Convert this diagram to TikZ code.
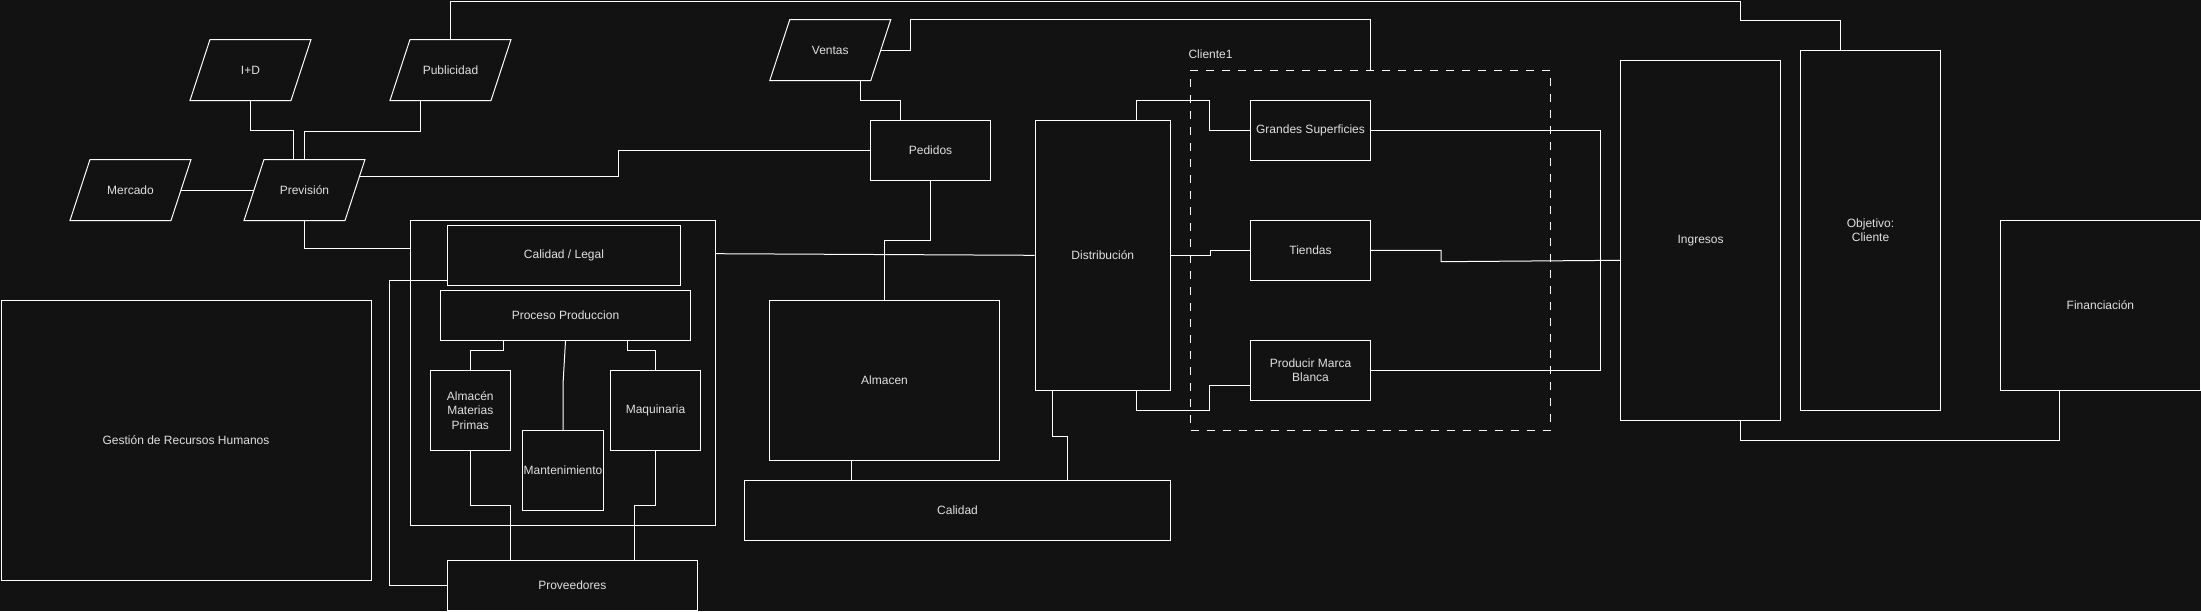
\documentclass[tikz,border=0pt]{standalone}
\usepackage{fontspec}
\setmainfont{Liberation Sans}
\definecolor{bgc}{RGB}{18,18,18}
\definecolor{textc}{RGB}{224,224,224}
\newcommand{\parashape}[1]{\draw[edge] ([xshift=20pt]#1.north west) -- (#1.north east) -- ([xshift=-20pt]#1.south east) -- (#1.south west) -- cycle;}
\begin{document}
\begin{tikzpicture}[x=1pt,y=-1pt,
  box/.style={draw=white, line width=1pt, fill=bgc, inner sep=0pt, text=textc, font=\fontsize{12}{14.4}\selectfont, align=center},
  para/.style={box, draw=none, fill=none, minimum width=120pt, minimum height=60pt},
  edge/.style={draw=white, line width=1pt},
  dashbox/.style={box, fill=none, dash pattern=on 8pt off 8pt}]
\fill[bgc] (0,0) rectangle (2201,611);
\useasboundingbox (0,0) rectangle (2201,611);

% left nodes
\node[box, minimum width=370pt, minimum height=280pt] (grh) at (186,440.3) {Gestión de Recursos Humanos};
\node[para] (mercado) at (130.5,190) {Mercado};
\node[para] (prevision) at (304.5,190) {Previsión};
\node[para] (id) at (250.5,70) {I+D};
\node[para] (publicidad) at (450.5,70) {Publicidad};
\node[para] (ventas) at (830.3,50) {Ventas};
\parashape{mercado}
\parashape{prevision}
\parashape{id}
\parashape{publicidad}
\parashape{ventas}

\node[box, minimum width=120pt, minimum height=60pt] (pedidos) at (930.5,150) {Pedidos};

% production group
\node[box, minimum width=305pt, minimum height=304.7pt] (prod) at (562.8,372.7) {};
\node[box, minimum width=233.4pt, minimum height=60pt] (calleg) at (564,255.3) {Calidad / Legal};
\node[box, minimum width=250.4pt, minimum height=50pt] (proc) at (565.5,315.3) {Proceso Produccion};
\node[box, minimum width=80pt, minimum height=80pt] (amp) at (470.3,410.3) {Almacén\\Materias\\Primas};
\node[box, minimum width=80.6pt, minimum height=80pt] (mant) at (563,470.3) {Mantenimiento};
\node[box, minimum width=90.4pt, minimum height=80pt] (maq) at (655.5,410.3) {Maquinaria};
\node[box, minimum width=250pt, minimum height=50pt] (prov) at (572.3,585.3) {Proveedores};

\node[box, minimum width=230.4pt, minimum height=160pt] (almacen) at (884.5,380.3) {Almacen};
\node[box, minimum width=426.4pt, minimum height=60pt] (calidad) at (957.5,510.3) {Calidad};
\node[box, minimum width=135.5pt, minimum height=270pt] (dist) at (1102.8,255.3) {Distribución};

% client group
\node[dashbox, minimum width=359.8pt, minimum height=360pt] (cliente) at (1370.5,250.3) {};
\node[anchor=west, inner sep=0pt, text=textc, font=\fontsize{12}{14.4}\selectfont] (clientelbl) at (1188.3,54.6) {Cliente1};
\node[box, minimum width=120pt, minimum height=60pt] (gs) at (1310.5,130.3) {Grandes Superficies};
\node[box, minimum width=120pt, minimum height=60pt] (tiendas) at (1310.5,250.3) {Tiendas};
\node[box, minimum width=120pt, minimum height=60pt] (pmb) at (1310.5,370.3) {Producir Marca\\Blanca};

\node[box, minimum width=160.4pt, minimum height=360pt] (ingresos) at (1700.6,240.3) {Ingresos};
\node[box, minimum width=140.6pt, minimum height=360pt] (obj) at (1870.5,230.3) {Objetivo:\\Cliente};
\node[box, minimum width=200.4pt, minimum height=170pt] (fin) at (2100.4,305.3) {Financiación};

% connectors
\draw[edge] ([xshift=-10pt]mercado.east) -- ([xshift=10pt]prevision.west);
\draw[edge] (id.south) -- ++(0,30) -| ([xshift=-11.3pt]prevision.north);
\draw[edge] ([xshift=-30.3pt]publicidad.south) -- ++(0,30.7) -| (prevision.north);
\draw[edge] (publicidad.north) |- (1740.4,1) -- (1740.4,20.3) -| ([xshift=-30.3pt]obj.north);
\draw[edge] ([xshift=-5.5pt,yshift=13.3pt]prevision.east) -- ++(258.8,0) |- (pedidos.west);
\draw[edge] (prevision.south) |- ([yshift=124pt]prod.west);
\draw[edge] ([yshift=119pt]prod.east) -- (dist.west);
\draw[edge] ([yshift=-25pt]calleg.west) -- ++(-57,0) |- (prov.west);
\draw[edge] ([xshift=-62.2pt]proc.south) -- ++(0,10) -| (amp.north);
\draw[edge] (proc.south) -- ([yshift=45.3pt]mant.north) -- (mant.north);
\draw[edge] ([xshift=62.2pt]proc.south) -- ++(0,10) -| (maq.north);
\draw[edge] (amp.south) -- ++(0,55) -| ([xshift=-62.3pt]prov.north);
\draw[edge] (maq.south) -- ++(0,55) -| ([xshift=62.4pt]prov.north);
\draw[edge] ([xshift=30pt]ventas.south) -- ++(0,20) -| ([xshift=-30.2pt]pedidos.north);
\draw[edge] ([xshift=-10pt]ventas.east) -- ++(30,0) |- ([yshift=50pt]cliente.north) -- (cliente.north);
\draw[edge] (pedidos.south) -- ++(0,60) -| (almacen.north);
\draw[edge] ([xshift=-33.5pt]almacen.south) -- ([xshift=-106.5pt]calidad.north);
\draw[edge] ([xshift=-50.5pt]dist.south) -- ++(0,45.4) -| ([xshift=110.2pt]calidad.north);
\draw[edge] ([xshift=33.8pt]dist.north) |- ([xshift=-40.1pt,yshift=30pt]gs.west) |- (gs.west);
\draw[edge] (dist.east) -- ++(39.8,0) |- (tiendas.west);
\draw[edge] ([xshift=33.8pt]dist.south) |- ([xshift=-40.1pt,yshift=-40pt]pmb.west) |- ([yshift=-15pt]pmb.west);
\draw[edge] (gs.east) -| ([xshift=-19.7pt,yshift=-20pt]ingresos.west) -- ([yshift=-20pt]ingresos.west);
\draw[edge] (pmb.east) -| ([xshift=-19.7pt,yshift=-20pt]ingresos.west) -- ([yshift=-20pt]ingresos.west);
\draw[edge] (tiendas.east) -- ++(70.1,0) -- ++(0,11.4) -- ([yshift=-20pt]ingresos.west);
\draw[edge] ([xshift=39.8pt]ingresos.south) -- ++(0,20) -| ([xshift=-41.2pt]fin.south);
\end{tikzpicture}
\end{document}
